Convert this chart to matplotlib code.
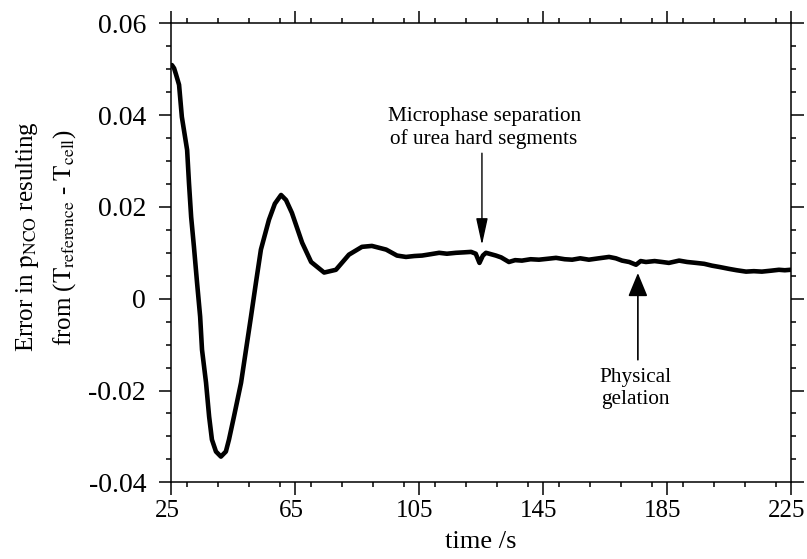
import matplotlib
matplotlib.use("Agg")
import matplotlib.pyplot as plt
import matplotlib.transforms as mtransforms
from matplotlib.ticker import MultipleLocator

plt.rcParams['font.family'] = ['Liberation Serif', 'DejaVu Serif']
plt.rcParams['mathtext.fontset'] = 'stix'

# data
time_s = [25.3, 26.0, 26.6, 27.6, 28.5, 30.2, 30.8, 31.5, 32.4, 33.4, 34.4, 35.0,
          36.3, 37.3, 38.2, 39.5, 41.1, 42.7, 43.7, 45.3, 47.6, 49.2, 50.8, 52.4,
          54.0, 56.6, 58.5, 60.5, 62.1, 64.0, 67.3, 70.2, 74.4, 78.2, 82.4, 86.6,
          89.8, 94.4, 97.9, 100.8, 103.5, 106.0, 108.8, 111.5, 114.0, 116.9, 119.5,
          121.8, 123.3, 124.5, 125.6, 126.6, 129.8, 131.5, 134.0, 136.0, 138.2,
          141.0, 143.7, 146.5, 149.2, 152.0, 154.4, 157.0, 159.8, 163.0, 166.3,
          168.5, 170.5, 172.8, 175.0, 176.5, 178.2, 181.0, 183.4, 185.6, 188.9,
          191.5, 194.4, 197.0, 199.5, 202.0, 205.0, 207.5, 210.5, 213.0, 215.6,
          218.5, 221.1, 223.0, 224.8]
error_p = [0.0509, 0.0502, 0.0489, 0.0466, 0.0396, 0.0324, 0.0252, 0.0178, 0.0113,
           0.0035, -0.0039, -0.0111, -0.0183, -0.0257, -0.0307, -0.0333, -0.0344,
           -0.0333, -0.0307, -0.0257, -0.0183, -0.0111, -0.0039, 0.0035, 0.0107,
           0.0172, 0.0207, 0.0226, 0.0215, 0.0187, 0.0122, 0.0080, 0.0057, 0.0063,
           0.0096, 0.0113, 0.0115, 0.0107, 0.0094, 0.0091, 0.0093, 0.0094, 0.0097,
           0.0100, 0.0098, 0.0100, 0.0101, 0.0102, 0.0098, 0.0078, 0.0094, 0.0100,
           0.0094, 0.0090, 0.0080, 0.0084, 0.0083, 0.0086, 0.0085, 0.0087, 0.0089,
           0.0086, 0.0085, 0.0088, 0.0085, 0.0088, 0.0091, 0.0088, 0.0083, 0.0080,
           0.0074, 0.0082, 0.0080, 0.0082, 0.0080, 0.0078, 0.0083, 0.0080, 0.0078,
           0.0076, 0.0072, 0.0069, 0.0065, 0.0062, 0.0059, 0.0060, 0.0059, 0.0061,
           0.0063, 0.0062, 0.0063]

x_ticks = [25, 65, 105, 145, 185, 225]
y_ticks = [-0.04, -0.02, 0, 0.02, 0.04, 0.06]
y_tick_labels = ["-0.04", "-0.02", "0", "0.02", "0.04", "0.06"]

fig = plt.figure(figsize=(8.07, 5.59), dpi=100)
ax = fig.add_axes([0.2119, 0.1372, 0.7683, 0.8211])

ax.plot(time_s, error_p, color='black', linewidth=3.3, solid_joinstyle='round',
        solid_capstyle='round')

ax.set_xlim(25, 225)
ax.set_ylim(-0.04, 0.06)
ax.set_xticks(x_ticks)
ax.set_xticklabels([str(t) for t in x_ticks])
ax.set_yticks(y_ticks)
ax.set_yticklabels(y_tick_labels)
ax.xaxis.set_minor_locator(MultipleLocator(10))
ax.yaxis.set_minor_locator(MultipleLocator(0.005))

ax.tick_params(which='both', direction='out', top=True, right=True, width=1.1)
ax.tick_params(which='major', length=9)
ax.tick_params(which='minor', length=3.5)
ax.tick_params(axis='y', labelsize=20, pad=9)
ax.tick_params(axis='x', labelsize=18, pad=4)
for s in ax.spines.values():
    s.set_linewidth(1.1)

# x tick labels sit a little left of their ticks in the original
shift = mtransforms.ScaledTranslation(-4 / 100, 0, fig.dpi_scale_trans)
for lab in ax.get_xticklabels():
    lab.set_transform(lab.get_transform() + shift)

ax.set_xlabel("time /s", fontsize=19, labelpad=6)
fig.text(46 / 807, 1 - 237 / 559,
         "Error in $\\mathrm{p}_{\\mathrm{NCO}}$ resulting\n"
         "from ($\\mathrm{T}_{\\mathrm{reference}}$ - $\\mathrm{T}_{\\mathrm{cell}}$)",
         rotation=90, ha='center', va='center', multialignment='center',
         fontsize=18, linespacing=1.55)

# annotations
ax.text(126, 0.0418, "Microphase separation\nof urea hard segments",
        ha='center', va='top', fontsize=15.3, linespacing=1.2)
ax.annotate("", xy=(125.3, 0.0117), xytext=(125.3, 0.0317),
            arrowprops=dict(arrowstyle='-|>,head_length=1.65,head_width=0.36',
                            mutation_scale=10, color='black', lw=1.0,
                            shrinkA=0, shrinkB=0))
ax.text(174.7, -0.0152, "Physical\ngelation", ha='center', va='top',
        fontsize=15.3, linespacing=1.2)
ax.annotate("", xy=(175.6, 0.0056), xytext=(175.6, -0.0133),
            arrowprops=dict(arrowstyle='-|>,head_length=1.45,head_width=0.6',
                            mutation_scale=10, color='black', lw=1.2,
                            shrinkA=0, shrinkB=0))

fig.savefig("out.png", dpi=100)
